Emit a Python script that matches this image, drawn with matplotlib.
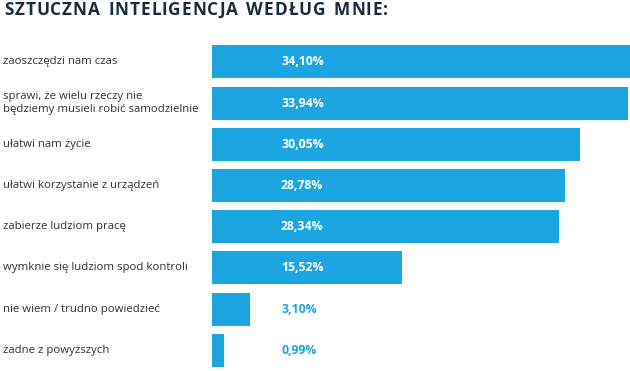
import matplotlib
matplotlib.use("Agg")
import matplotlib.pyplot as plt
from matplotlib import font_manager as fm
from matplotlib.transforms import blended_transform_factory

# data
categories = [
    "zaoszczędzi nam czas",
    "sprawi, że wielu rzeczy nie\nbędziemy musieli robić samodzielnie",
    "ułatwi nam życie",
    "ułatwi korzystanie z urządzeń",
    "zabierze ludziom pracę",
    "wymknie się ludziom spod kontroli",
    "nie wiem / trudno powiedzieć",
    "żadne z powyższych",
]
values = [34.10, 33.94, 30.05, 28.78, 28.34, 15.52, 3.10, 0.99]
value_labels = ["34,10%", "33,94%", "30,05%", "28,78%", "28,34%", "15,52%", "3,10%", "0,99%"]
title = "SZTUCZNA INTELIGENCJA WEDŁUG MNIE:"

bar_color = "#1ba6e1"
text_color = "#333333"

# pick the plain (not condensed) Open Sans files
def open_sans(weight):
    best = None
    for f in fm.fontManager.ttflist:
        if f.name != "Open Sans":
            continue
        if "ondensed" in f.fname or "emi" in f.fname.split("/")[-1]:
            continue
        if f.style != "normal":
            continue
        if best is None or abs(f.weight - weight) < abs(best.weight - weight):
            best = f
    if best is None:
        return fm.FontProperties(family="DejaVu Sans", weight=weight)
    return fm.FontProperties(fname=best.fname)

regular = open_sans(400)
bold = open_sans(700)

fig = plt.figure(figsize=(6.3, 3.71), dpi=100)
ax = fig.add_axes([212 / 630, 0.0, 1 - 212 / 630, 0.889])

pos = list(range(len(values)))
ax.barh(pos, values, height=0.8, color=bar_color)
ax.set_xlim(0, max(values))
ax.set_ylim(len(values) - 0.5, -0.5)
ax.axis("off")

# labels on the left, aligned to the figure edge
trans = blended_transform_factory(fig.transFigure, ax.transData)
for i, cat in enumerate(categories):
    ax.text(3 / 630, i, cat, transform=trans, ha="left", va="center",
            fontproperties=regular, fontsize=8.2, color=text_color,
            linespacing=1.2, clip_on=False)

# value labels: white inside big bars, blue next to the small ones
lab_x = (281 - 212) / 418 * max(values)
for i, (v, lab) in enumerate(zip(values, value_labels)):
    col = "white" if v > lab_x + 3 else bar_color
    ax.text(lab_x, i, lab, ha="left", va="center", fontproperties=bold,
            fontsize=8.8, color=col)

# title with wide letter spacing: one glyph at a time
renderer = fig.canvas.get_renderer()
x_px = 4.0
target_end = 388.0
widths = []
for ch in title:
    t = fig.text(0, 0, ch if ch != " " else "M", fontproperties=bold, fontsize=12.4)
    w = t.get_window_extent(renderer).width
    t.remove()
    widths.append(w * (0.42 if ch == " " else 1.0))
track = (target_end - x_px - sum(widths)) / (len(title) - 1)
for ch, w in zip(title, widths):
    if ch != " ":
        fig.text(x_px / 630, 1 - 10 / 371, ch, ha="left", va="center",
                 fontproperties=bold, fontsize=12.4, color="#1b2b3c")
    x_px += w + track

fig.savefig("out.png", dpi=100)
